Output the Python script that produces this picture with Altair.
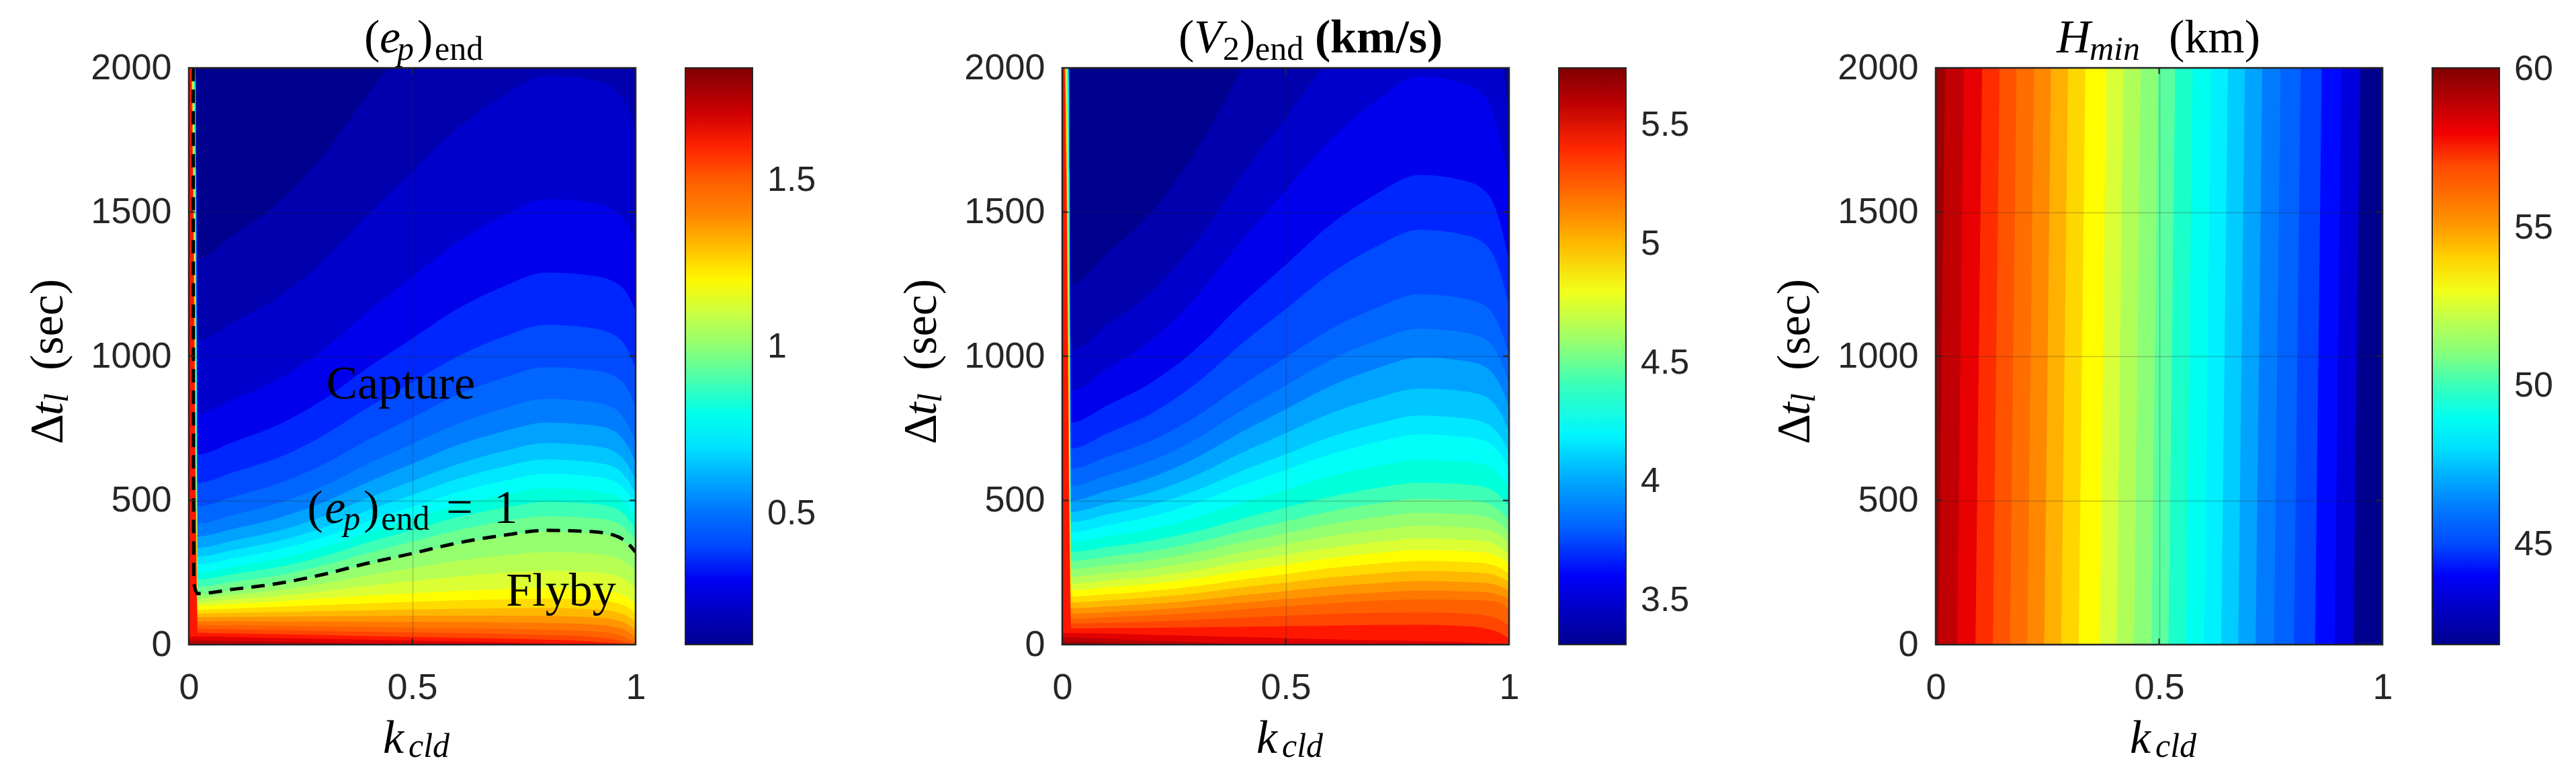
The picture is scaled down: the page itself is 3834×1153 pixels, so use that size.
import altair as alt
import pandas as pd

# ------------------------------------------------------------------ data
K_CLD = [0.02, 0.1, 0.2, 0.3, 0.4, 0.5, 0.6, 0.7, 0.8, 0.9, 0.95, 0.98, 1.0]

# panel 1 : (e_p)_end  -- contour levels and their Delta t_l position at each K_CLD
EP_RANGE = [0.107, 1.837]
EP_LEVELS = [0.17, 0.23, 0.29, 0.35, 0.41, 0.47, 0.53, 0.59, 0.65, 0.71, 0.77, 0.83, 0.89, 0.95,
             1.01, 1.07, 1.13, 1.19, 1.25, 1.31, 1.37, 1.43, 1.49, 1.55, 1.61, 1.67, 1.73, 1.79]
EP_STRIP_K = [0.015, 0.015, 0.015, 0.015, 0.015, 0.015, 0.0135, 0.0135, 0.0135, 0.0135, 0.0135,
              0.011, 0.011, 0.011, 0.011, 0.0075, 0.0075, 0.0075, 0.0075, 0.006, 0.006, 0.006,
              0.0045, 0.0045, 0.0045, 0, 0, 0]
EP_ISO_T = [
    [1339, 1421, 1532, 1695, 1908, 2101, 2294, 2438, 2535, 2515, 2477, 2399, 2284],
    [1056, 1119, 1204, 1329, 1492, 1640, 1788, 1899, 1973, 1958, 1928, 1869, 1780],
    [800, 851, 920, 1022, 1154, 1274, 1394, 1484, 1544, 1532, 1508, 1460, 1388],
    [660, 703, 762, 848, 960, 1061, 1163, 1239, 1290, 1280, 1260, 1219, 1158],
    [560, 598, 648, 724, 821, 909, 998, 1065, 1109, 1098, 1075, 1029, 958],
    [480, 513, 558, 624, 709, 787, 865, 923, 962, 952, 933, 892, 830],
    [420, 450, 490, 549, 626, 696, 765, 817, 852, 842, 821, 769, 702],
    [375, 402, 439, 493, 563, 627, 691, 738, 770, 761, 742, 694, 633],
    [336, 361, 394, 444, 508, 567, 625, 669, 699, 690, 672, 628, 573],
    [305, 328, 359, 405, 465, 519, 574, 615, 642, 633, 617, 576, 525],
    [278, 299, 329, 372, 427, 478, 528, 566, 592, 584, 569, 531, 483],
    [250, 270, 297, 337, 389, 436, 483, 518, 542, 534, 520, 485, 440],
    [226, 245, 269, 306, 354, 397, 441, 473, 495, 489, 476, 443, 402],
    [201, 218, 240, 274, 317, 357, 396, 426, 445, 439, 428, 398, 361],
    [175, 190, 210, 240, 278, 313, 348, 375, 392, 387, 376, 350, 317],
    [161, 173, 189, 212, 240, 265, 290, 308, 321, 316, 305, 282, 252],
    [148, 157, 169, 185, 204, 220, 236, 248, 256, 252, 242, 222, 195],
    [135, 141, 150, 160, 170, 178, 186, 192, 196, 192, 183, 165, 140],
    [121, 125, 131, 137, 143, 148, 153, 157, 159, 155, 147, 131, 108],
    [108, 110, 113, 116, 119, 122, 124, 126, 127, 123, 115, 100, 78],
    [95, 96, 97, 98, 99, 100, 100, 100, 99, 95, 87, 73, 50],
    [81, 81, 80, 80, 79, 79, 78, 77, 75, 70, 62, 48, 25],
    [68, 67, 65, 63, 61, 59, 57, 55, 52, 46, 38, 24, 5],
    [55, 53, 50, 47, 44, 42, 40, 37, 33, 27, 19, 7, 0],
    [41, 39, 36, 33, 30, 27, 24, 21, 17, 11, 5, 0, 0],
    [28, 26, 23, 20, 17, 14, 11, 8, 4, 0, 0, 0, 0],
    [15, 13, 10, 7, 4, 2, 0, 0, 0, 0, 0, 0, 0],
    [4, 2, 0, 0, 0, 0, 0, 0, 0, 0, 0, 0, 0],
]
# dashed (e_p)_end = 1 contour
EP_ONE_K = [0.010, 0.011, 0.02, 0.1, 0.2, 0.3, 0.4, 0.5, 0.6, 0.7, 0.8, 0.9, 0.95, 0.98, 1.0]
EP_ONE_T = [2000, 215, 177, 192, 212, 243, 282, 316, 352, 378, 396, 392, 380, 355, 321]

# panel 2 : (V_2)_end (km/s)
V2_RANGE = [3.314, 5.74]
V2_LEVELS = [3.402, 3.486, 3.571, 3.655, 3.739, 3.823, 3.907, 3.991, 4.076, 4.160, 4.244, 4.328,
             4.412, 4.496, 4.580, 4.664, 4.749, 4.833, 4.917, 5.001, 5.085, 5.169, 5.253, 5.337,
             5.422, 5.506, 5.590, 5.674]
V2_STRIP_K = EP_STRIP_K
V2_ISO_T = [
    [1250, 1356, 1500, 1713, 1988, 2238, 2488, 2675, 2800, 2763, 2688, 2500, 2263],
    [1020, 1107, 1224, 1397, 1622, 1826, 2030, 2183, 2285, 2254, 2193, 2040, 1846],
    [880, 955, 1056, 1206, 1399, 1575, 1751, 1883, 1971, 1945, 1892, 1760, 1593],
    [770, 829, 909, 1026, 1179, 1317, 1456, 1560, 1629, 1609, 1567, 1463, 1331],
    [680, 732, 802, 906, 1041, 1163, 1286, 1378, 1439, 1421, 1384, 1292, 1176],
    [610, 651, 708, 791, 898, 996, 1093, 1166, 1215, 1200, 1171, 1098, 1005],
    [550, 587, 638, 713, 810, 898, 986, 1052, 1096, 1082, 1056, 990, 906],
    [500, 534, 580, 648, 736, 816, 896, 956, 996, 984, 960, 900, 824],
    [460, 489, 529, 588, 664, 733, 802, 853, 888, 878, 857, 805, 740],
    [425, 451, 485, 535, 601, 660, 720, 764, 794, 785, 767, 723, 666],
    [390, 413, 445, 491, 551, 606, 660, 701, 729, 720, 704, 663, 611],
    [355, 375, 401, 441, 491, 537, 584, 618, 641, 634, 621, 586, 542],
    [322, 338, 361, 393, 436, 475, 513, 542, 562, 556, 544, 515, 478],
    [290, 305, 325, 354, 393, 427, 462, 488, 506, 501, 490, 464, 431],
    [262, 275, 293, 320, 355, 386, 418, 441, 457, 452, 443, 419, 389],
    [236, 248, 264, 288, 320, 348, 376, 397, 412, 407, 399, 378, 351],
    [211, 222, 236, 258, 286, 311, 336, 355, 368, 364, 357, 338, 314],
    [188, 198, 211, 230, 255, 277, 300, 317, 328, 324, 318, 301, 279],
    [166, 174, 186, 203, 225, 245, 265, 280, 290, 287, 281, 266, 247],
    [146, 153, 164, 178, 198, 215, 233, 246, 255, 252, 247, 234, 217],
    [126, 132, 141, 154, 171, 186, 201, 212, 220, 217, 213, 202, 187],
    [107, 112, 120, 131, 145, 158, 171, 180, 187, 185, 181, 171, 159],
    [90, 95, 101, 110, 122, 133, 143, 152, 157, 155, 152, 144, 120],
    [73, 76, 80, 86, 93, 100, 106, 110, 112, 108, 100, 85, 65],
    [56, 57, 58, 60, 62, 64, 66, 68, 69, 64, 55, 40, 20],
    [40, 38, 34, 30, 26, 22, 18, 15, 12, 8, 4, 0, 0],
    [25, 20, 14, 8, 3, 0, 0, 0, 0, 0, 0, 0, 0],
    [10, 5, 0, 0, 0, 0, 0, 0, 0, 0, 0, 0, 0],
]

# panel 3 : H_min (km) -- contour lines as k positions at the bottom and the top
H_RANGE = [41.83, 60.05]
H_LEVELS = [43.45, 44.15, 44.85, 45.55, 46.25, 46.95, 47.65, 48.35, 49.05, 49.75, 50.45, 51.15,
            51.85, 52.55, 53.25, 53.95, 54.65, 55.35, 56.05, 56.75, 57.45, 58.15, 58.85, 59.55]
H_K_TOP = [0.950, 0.908, 0.864, 0.817, 0.772, 0.731, 0.692, 0.654, 0.616, 0.575, 0.536, 0.498,
           0.459, 0.420, 0.382, 0.335, 0.296, 0.258, 0.220, 0.181, 0.143, 0.104, 0.063, 0.021]
H_K_BOT = [0.935, 0.893, 0.849, 0.802, 0.757, 0.716, 0.677, 0.639, 0.601, 0.560, 0.521, 0.483,
           0.444, 0.405, 0.367, 0.320, 0.281, 0.243, 0.205, 0.166, 0.128, 0.089, 0.048, 0.006]

X_TICKS = [0, 0.5, 1]
Y_TICKS = [0, 500, 1000, 1500, 2000]
EP_BAR_TICKS = [0.5, 1, 1.5]
V2_BAR_TICKS = [3.5, 4, 4.5, 5, 5.5]
H_BAR_TICKS = [45, 50, 55, 60]

# annotations in panel 1 (k, t anchors)
CAPTURE_AT = (0.474, 853)
FLYBY_AT = (0.833, 135)
EQ_AT = (0.265, 422)

# ------------------------------------------------------------------ style
JET = ["#00008F", "#0000FF", "#0080FF", "#00FFFF", "#80FF80", "#FFFF00", "#FF8000", "#FF0000", "#800000"]
W, H = 665, 858
SANS = "Liberation Sans"
SERIF = "Liberation Serif"
INK = "#262626"
BIG, SUB = 70, 50
TICK_LEN = 9
ONE = pd.DataFrame({"o": [0]})


def x_axis():
    return alt.Axis(values=X_TICKS, format="~g", title=None, labelFont=SANS, labelFontSize=54,
                    labelColor=INK, labelPadding=37, labelFlush=False, ticks=False, tickSize=0,
                    domain=False, grid=True, gridColor=INK, gridOpacity=0.25, gridWidth=1.5, zindex=1)


def y_axis():
    return alt.Axis(values=Y_TICKS, format="d", title=None, labelFont=SANS, labelFontSize=54,
                    labelColor=INK, labelPadding=26, ticks=False, tickSize=0,
                    domain=False, grid=True, gridColor=INK, gridOpacity=0.25, gridWidth=1.5, zindex=1)


def color_enc(rng, ticks):
    lo, hi = rng
    dom = [lo + (hi - lo) * i / 8 for i in range(9)]
    return alt.Color("level:Q", scale=alt.Scale(domain=dom, range=JET),
                     legend=alt.Legend(title=None, orient="right", direction="vertical", offset=74,
                                       gradientLength=H, gradientThickness=100,
                                       gradientStrokeColor=INK, gradientStrokeWidth=2,
                                       labelFont=SANS, labelFontSize=52, labelColor=INK,
                                       labelOffset=22, values=ticks, format="~g"))


def piece(txt, x, y, size, style="normal", weight="normal", angle=0):
    return alt.Chart(ONE).mark_text(text=txt, font=SERIF, fontSize=size, fontStyle=style,
                                    fontWeight=weight, align="left", baseline="alphabetic",
                                    angle=angle, color="black").encode(x=alt.value(x), y=alt.value(y))


def ann(txt, at, size, dx=0, dy=0, style="normal", align="left"):
    d = pd.DataFrame({"k": [at[0]], "t": [at[1]]})
    return alt.Chart(d).mark_text(text=txt, font=SERIF, fontSize=size, fontStyle=style,
                                  align=align, baseline="alphabetic", dx=dx, dy=dy,
                                  color="black").encode(x="k:Q", y="t:Q")


def axis_titles():
    return [
        piece("Δ", -188, 560, BIG, angle=270),
        piece("t", -188, 517, BIG, style="italic", angle=270),
        piece("l", -180, 498, SUB, style="italic", angle=270),
        piece("(sec)", -188, 450, BIG, angle=270),
        piece("k", 289, 1019, BIG, style="italic"),
        piece("cld", 327, 1025, SUB, style="italic"),
    ]


def inner_ticks():
    ydf = pd.DataFrame({"t": Y_TICKS[1:-1]})
    xdf = pd.DataFrame({"k": X_TICKS[1:-1]})
    rule = dict(color=INK, strokeWidth=2)
    return [
        alt.Chart(ydf).mark_rule(**rule).encode(y="t:Q", x=alt.value(0), x2=alt.value(TICK_LEN)),
        alt.Chart(ydf).mark_rule(**rule).encode(y="t:Q", x=alt.value(W - TICK_LEN), x2=alt.value(W)),
        alt.Chart(xdf).mark_rule(**rule).encode(x="k:Q", y=alt.value(H - TICK_LEN), y2=alt.value(H)),
        alt.Chart(xdf).mark_rule(**rule).encode(x="k:Q", y=alt.value(0), y2=alt.value(TICK_LEN)),
    ]


def frame():
    return alt.Chart(ONE).mark_rect(fillOpacity=0, stroke=INK, strokeWidth=2.5).encode(
        x=alt.value(0), x2=alt.value(W), y=alt.value(0), y2=alt.value(H))


def contour_df(levels, iso, strip, rng):
    rows = [dict(k=0.0, t=2000, level=rng[0]), dict(k=1.0, t=2000, level=rng[0])]
    for lev, ts, ks in zip(levels, iso, strip):
        if ks > 0:
            rows += [dict(k=0.0, t=2000, level=lev), dict(k=ks, t=2000, level=lev)]
        else:
            rows.append(dict(k=0.0, t=ts[0], level=lev))
        for k, t in zip(K_CLD, ts):
            rows.append(dict(k=k, t=t, level=lev))
    return pd.DataFrame(rows)


def contour_chart(df, rng, ticks):
    return alt.Chart(df).mark_area(interpolate="monotone", clip=True).encode(
        x=alt.X("k:Q", scale=alt.Scale(domain=[0, 1], nice=False), axis=x_axis()),
        y=alt.Y("t:Q", stack=None, scale=alt.Scale(domain=[0, 2000], nice=False), axis=y_axis()),
        color=color_enc(rng, ticks),
        detail="level:N",
    )


# ------------------------------------------------------------------ panel 1
c1 = contour_chart(contour_df(EP_LEVELS, EP_ISO_T, EP_STRIP_K, EP_RANGE), EP_RANGE, EP_BAR_TICKS)
dash = alt.Chart(pd.DataFrame({"k": EP_ONE_K, "t": EP_ONE_T})).mark_line(
    color="black", strokeWidth=5, strokeDash=[20, 12], interpolate="monotone", clip=True
).encode(x="k:Q", y="t:Q")
p1 = alt.layer(
    c1, dash,
    ann("Capture", CAPTURE_AT, BIG, align="center"),
    ann("Flyby", FLYBY_AT, BIG, align="center"),
    ann("(", EQ_AT, BIG, dx=0),
    ann("e", EQ_AT, BIG, dx=26, style="italic"),
    ann("p", EQ_AT, SUB, dx=54, dy=10, style="italic"),
    ann(")", EQ_AT, BIG, dx=84),
    ann("end", EQ_AT, SUB, dx=110, dy=10),
    ann("=", EQ_AT, BIG, dx=207),
    ann("1", EQ_AT, BIG, dx=278),
    *inner_ticks(),
    frame(),
    piece("(", 261, -23, BIG),
    piece("e", 284, -23, BIG, style="italic"),
    piece("p", 310, -12, SUB, style="italic"),
    piece(")", 340, -23, BIG),
    piece("end", 366, -12, SUB),
    *axis_titles(),
).properties(width=W, height=H)

# ------------------------------------------------------------------ panel 2
c2 = contour_chart(contour_df(V2_LEVELS, V2_ISO_T, V2_STRIP_K, V2_RANGE), V2_RANGE, V2_BAR_TICKS)
p2 = alt.layer(
    c2, *inner_ticks(), frame(),
    piece("(", 173, -23, BIG),
    piece("V", 196, -23, BIG, style="italic"),
    piece("2", 239, -12, SUB),
    piece(")", 264, -23, BIG),
    piece("end", 287, -12, SUB),
    piece("(", 376, -23, BIG, weight="bold"),
    piece("km/s", 399, -23, BIG, weight="bold"),
    piece(")", 543, -23, BIG, weight="bold"),
    *axis_titles(),
).properties(width=W, height=H)

# ------------------------------------------------------------------ panel 3
rows3 = [dict(k=1.0, t=0, level=H_RANGE[0]), dict(k=1.0, t=2000, level=H_RANGE[0])]
for lev, kt, kb in zip(H_LEVELS, H_K_TOP, H_K_BOT):
    rows3 += [dict(k=kb, t=0, level=lev), dict(k=kt, t=2000, level=lev)]
c3 = alt.Chart(pd.DataFrame(rows3)).mark_area(orient="horizontal", clip=True).encode(
    x=alt.X("k:Q", stack=None, scale=alt.Scale(domain=[0, 1], nice=False), axis=x_axis()),
    y=alt.Y("t:Q", scale=alt.Scale(domain=[0, 2000], nice=False), axis=y_axis()),
    color=color_enc(H_RANGE, H_BAR_TICKS),
    detail="level:N",
)
p3 = alt.layer(
    c3, *inner_ticks(), frame(),
    piece("H", 180, -23, BIG, style="italic"),
    piece("min", 229, -12, SUB, style="italic"),
    piece("(km)", 347, -23, BIG),
    *axis_titles(),
).properties(width=W, height=H)

chart = alt.hconcat(p1, p2, p3, spacing=122).resolve_scale(
    color="independent", x="independent", y="independent"
).resolve_legend(color="independent").configure_view(strokeWidth=0).properties(
    padding={"left": 29, "top": 14, "right": 5, "bottom": 5}, background="white"
)

chart.save("out.html", embed_options={"renderer": "svg", "actions": False})
